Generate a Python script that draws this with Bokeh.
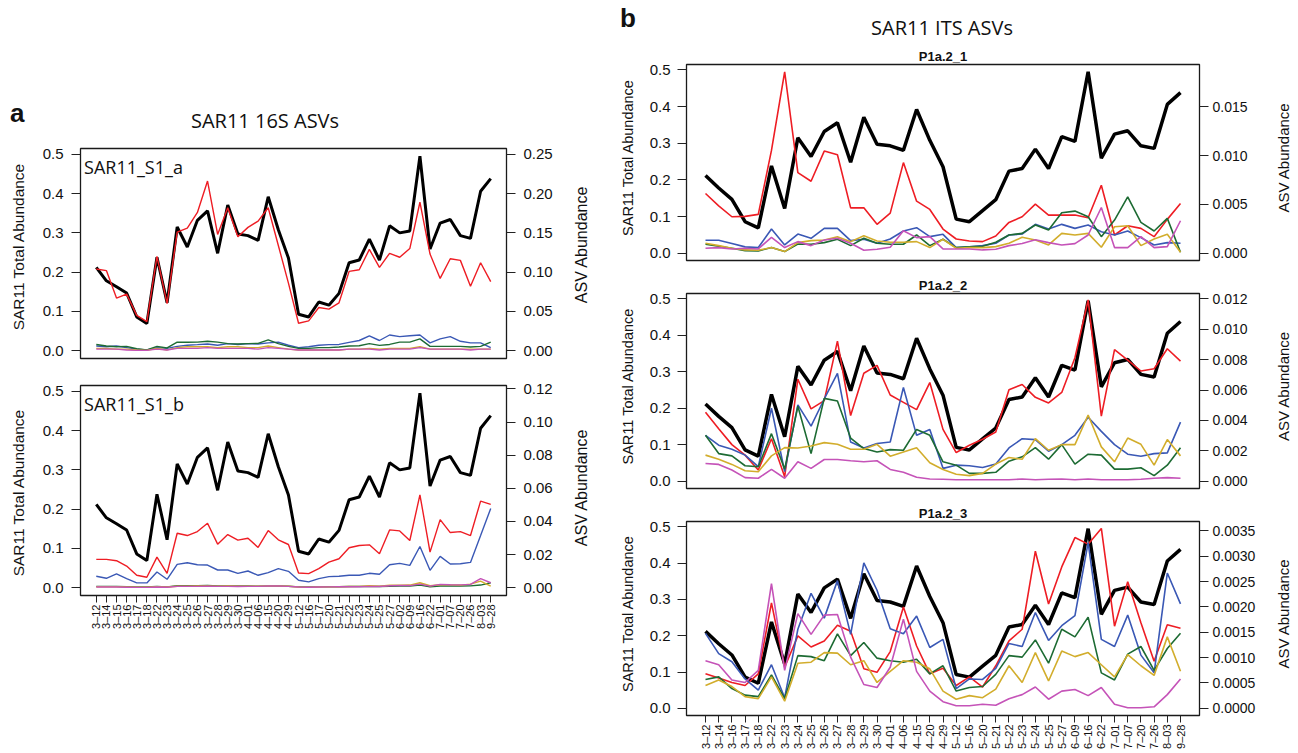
import math
from bokeh.plotting import figure
from bokeh.models import Range1d, LinearAxis, FixedTicker, PrintfTickFormatter, Div
from bokeh.layouts import row, column
from bokeh.core.properties import value
from bokeh.embed import file_html
from bokeh.resources import INLINE

# ---------------- data ----------------
dates_a = ["3–12", "3–14", "3–15", "3–16", "3–17", "3–18", "3–22", "3–23", "3–24", "3–25",
           "3–26", "3–27", "3–28", "3–29", "3–30", "4–01", "4–06", "4–15", "4–20", "4–29",
           "5–12", "5–16", "5–17", "5–20", "5–21", "5–22", "5–23", "5–24", "5–25", "5–27",
           "6–02", "6–09", "6–16", "6–22", "7–01", "7–07", "7–20", "7–26", "8–03", "9–28"]
dates_b = ["3–12", "3–14", "3–16", "3–17", "3–18", "3–22", "3–23", "3–24", "3–25", "3–26",
           "3–27", "3–28", "3–29", "3–30", "4–01", "4–06", "4–15", "4–20", "4–29", "5–12",
           "5–16", "5–20", "5–21", "5–22", "5–23", "5–24", "5–25", "5–27", "6–09", "6–16",
           "6–22", "7–01", "7–07", "7–20", "7–26", "8–03", "9–28"]

total_a = [0.212, 0.178, 0.163, 0.147, 0.086, 0.069, 0.238, 0.122, 0.315, 0.264,
           0.332, 0.356, 0.248, 0.371, 0.297, 0.293, 0.281, 0.392, 0.308, 0.236,
           0.093, 0.086, 0.124, 0.116, 0.146, 0.224, 0.231, 0.284, 0.231, 0.318,
           0.300, 0.305, 0.495, 0.259, 0.325, 0.334, 0.293, 0.286, 0.406, 0.438]
total_b = [0.212, 0.178, 0.147, 0.086, 0.069, 0.238, 0.122, 0.315, 0.264, 0.332,
           0.356, 0.248, 0.371, 0.297, 0.293, 0.281, 0.392, 0.308, 0.236, 0.093,
           0.086, 0.116, 0.146, 0.224, 0.231, 0.284, 0.231, 0.318, 0.305, 0.495,
           0.259, 0.325, 0.334, 0.293, 0.286, 0.406, 0.438]

# SAR11_S1_a
a1_red = [0.104, 0.102, 0.067, 0.072, 0.045, 0.037, 0.120, 0.060, 0.151, 0.156,
          0.176, 0.216, 0.148, 0.182, 0.145, 0.157, 0.165, 0.182, 0.134, 0.086,
          0.035, 0.038, 0.055, 0.053, 0.061, 0.101, 0.103, 0.129, 0.106, 0.124,
          0.119, 0.130, 0.189, 0.123, 0.092, 0.117, 0.115, 0.082, 0.112, 0.088]
a1_blue = [0.006, 0.005, 0.006, 0.004, 0.002, 0.001, 0.004, 0.003, 0.0055, 0.007,
           0.0077, 0.0085, 0.007, 0.009, 0.008, 0.009, 0.0085, 0.010, 0.011, 0.007,
           0.004, 0.005, 0.007, 0.0077, 0.008, 0.0107, 0.013, 0.019, 0.013, 0.020,
           0.018, 0.019, 0.020, 0.010, 0.015, 0.018, 0.012, 0.010, 0.010, 0.004]
a1_green = [0.008, 0.006, 0.005, 0.0055, 0.0025, 0.001, 0.0055, 0.0035, 0.011, 0.0107,
            0.011, 0.012, 0.011, 0.009, 0.0085, 0.009, 0.0094, 0.0137, 0.009, 0.0055,
            0.003, 0.003, 0.004, 0.004, 0.0047, 0.006, 0.0064, 0.009, 0.0068, 0.008,
            0.011, 0.011, 0.015, 0.0055, 0.0055, 0.0055, 0.0055, 0.0047, 0.0055, 0.011]
a1_yellow = [0.003, 0.003, 0.002, 0.002, 0.001, 0.0005, 0.003, 0.001, 0.004, 0.005,
             0.005, 0.005, 0.004, 0.005, 0.005, 0.004, 0.004, 0.006, 0.004, 0.002,
             0.001, 0.001, 0.001, 0.001, 0.001, 0.002, 0.002, 0.003, 0.002, 0.003,
             0.003, 0.003, 0.005, 0.002, 0.002, 0.002, 0.002, 0.002, 0.002, 0.002]
a1_magenta = [0.002, 0.002, 0.002, 0.001, 0.0005, 0.0005, 0.002, 0.001, 0.003, 0.003,
              0.003, 0.004, 0.003, 0.003, 0.003, 0.003, 0.002, 0.004, 0.003, 0.002,
              0.001, 0.001, 0.001, 0.001, 0.001, 0.002, 0.002, 0.002, 0.001, 0.002,
              0.002, 0.002, 0.004, 0.002, 0.002, 0.002, 0.002, 0.001, 0.002, 0.002]

# SAR11_S1_b
a2_red = [0.0171, 0.0171, 0.0163, 0.0131, 0.0075, 0.0063, 0.0185, 0.0087, 0.0329, 0.0315,
          0.0339, 0.0389, 0.0263, 0.0321, 0.0287, 0.0299, 0.0243, 0.0345, 0.0289, 0.0261,
          0.0089, 0.0085, 0.0115, 0.0155, 0.0175, 0.0241, 0.0255, 0.0259, 0.0205, 0.0349,
          0.0343, 0.0285, 0.0561, 0.0215, 0.0411, 0.0333, 0.0339, 0.0315, 0.0523, 0.0503]
a2_blue = [0.0069, 0.0057, 0.0083, 0.0055, 0.0029, 0.0029, 0.0095, 0.0051, 0.0141, 0.0151,
           0.0139, 0.0137, 0.0107, 0.0107, 0.0087, 0.0101, 0.0075, 0.0091, 0.0115, 0.0099,
           0.0045, 0.0035, 0.0055, 0.0067, 0.0069, 0.0075, 0.0075, 0.0087, 0.0081, 0.0139,
           0.0147, 0.0135, 0.0249, 0.0105, 0.0189, 0.0143, 0.0145, 0.0153, 0.0315, 0.0479]
a2_green = [0.0008, 0.0008, 0.0008, 0.0006, 0.0004, 0.0004, 0.0008, 0.0005, 0.0012, 0.0012,
            0.0012, 0.0013, 0.0011, 0.0011, 0.0010, 0.0010, 0.0009, 0.0010, 0.0010, 0.0009,
            0.0005, 0.0004, 0.0005, 0.0006, 0.0006, 0.0007, 0.0007, 0.0008, 0.0007, 0.0009,
            0.0010, 0.0010, 0.0016, 0.0006, 0.0010, 0.0010, 0.0010, 0.0011, 0.0016, 0.0030]
a2_yellow = [0.0006, 0.0006, 0.0006, 0.0005, 0.0003, 0.0003, 0.0006, 0.0004, 0.0009, 0.0009,
             0.0010, 0.0010, 0.0009, 0.0010, 0.0009, 0.0009, 0.0009, 0.0011, 0.0010, 0.0009,
             0.0004, 0.0003, 0.0004, 0.0005, 0.0006, 0.0007, 0.0008, 0.0012, 0.0009, 0.0015,
             0.0015, 0.0016, 0.0030, 0.0012, 0.0018, 0.0017, 0.0016, 0.0022, 0.0040, 0.0010]
a2_magenta = [0.0004, 0.0004, 0.0004, 0.0003, 0.0002, 0.0002, 0.0004, 0.0003, 0.0008, 0.0008,
              0.0008, 0.0009, 0.0008, 0.0008, 0.0007, 0.0008, 0.0008, 0.0010, 0.0010, 0.0008,
              0.0004, 0.0003, 0.0004, 0.0005, 0.0006, 0.0006, 0.0006, 0.0008, 0.0007, 0.0012,
              0.0013, 0.0013, 0.0022, 0.0010, 0.0020, 0.0018, 0.0017, 0.0020, 0.0055, 0.0030]

# P1a.2_1
b1_red = [0.00612, 0.00486, 0.00374, 0.00378, 0.00398, 0.01054, 0.0186, 0.00826, 0.00738, 0.01047,
          0.0101, 0.00465, 0.00465, 0.00296, 0.00411, 0.00929, 0.00534, 0.00449, 0.00248, 0.00146,
          0.00126, 0.00119, 0.00177, 0.00316, 0.00374, 0.00503, 0.00391, 0.00391, 0.00391, 0.00363,
          0.00697, 0.00187, 0.00282, 0.00255, 0.0017, 0.00347, 0.0051]
b1_blue = [0.00133, 0.00133, 0.00099, 0.00065, 0.00058, 0.00248, 0.00085, 0.00197, 0.00153, 0.00255,
           0.00255, 0.00129, 0.00143, 0.00102, 0.00146, 0.00228, 0.00262, 0.0017, 0.00194, 0.00058,
           0.00065, 0.00078, 0.00102, 0.00187, 0.00197, 0.00296, 0.00248, 0.00296, 0.00255, 0.00289,
           0.00221, 0.00187, 0.00228, 0.0016, 0.00085, 0.00109, 0.00102]
b1_green = [0.00092, 0.00071, 0.00051, 0.00027, 0.00024, 0.00058, 0.00017, 0.00095, 0.00092, 0.00109,
            0.00143, 0.00078, 0.00153, 0.00102, 0.00092, 0.00092, 0.00187, 0.00078, 0.00143, 0.00058,
            0.00065, 0.00071, 0.00112, 0.00187, 0.00204, 0.00289, 0.00238, 0.00415, 0.00432, 0.00374,
            0.0017, 0.0034, 0.00578, 0.00316, 0.00228, 0.00357, 0.0001]
b1_yellow = [0.00102, 0.00078, 0.00051, 0.00034, 0.00031, 0.00058, 0.00017, 0.00109, 0.00129, 0.00136,
             0.0017, 0.00119, 0.0018, 0.00126, 0.00112, 0.00112, 0.00119, 0.00058, 0.00143, 0.00051,
             0.00058, 0.00058, 0.00068, 0.00102, 0.00163, 0.00136, 0.00085, 0.00204, 0.00187, 0.00204,
             0.00061, 0.00272, 0.00282, 0.00078, 0.00146, 0.00194, 0.0001]
b1_magenta = [0.00051, 0.00058, 0.00044, 0.00051, 0.00044, 0.00163, 0.00058, 0.00119, 0.00078, 0.00136,
              0.00153, 0.00102, 0.00031, 0.00041, 0.00061, 0.00231, 0.0016, 0.0017, 0.00044, 0.00044,
              0.00044, 0.00034, 0.00041, 0.00078, 0.00099, 0.00139, 0.00109, 0.00085, 0.00099, 0.00187,
              0.00469, 0.00058, 0.00058, 0.0017, 0.00058, 0.00068, 0.00333]

# P1a.2_2
b2_red = [0.00454, 0.00345, 0.00241, 0.00172, 0.00074, 0.0028, 0.0003, 0.00671, 0.00476, 0.0053,
          0.00921, 0.00432, 0.0071, 0.00762, 0.00567, 0.00519, 0.00471, 0.00649, 0.00341, 0.00189,
          0.00237, 0.00276, 0.00324, 0.00602, 0.00636, 0.00552, 0.00515, 0.00584, 0.00812, 0.01192,
          0.00428, 0.00866, 0.00797, 0.00725, 0.0074, 0.00871, 0.0079]
b2_blue = [0.00302, 0.00237, 0.00211, 0.00172, 0.00096, 0.0048, 0.00063, 0.00502, 0.00363, 0.00541,
           0.0071, 0.00258, 0.00219, 0.00248, 0.00258, 0.00617, 0.00302, 0.00341, 0.00085, 0.00106,
           0.00102, 0.00091, 0.00113, 0.00219, 0.0028, 0.00274, 0.00198, 0.00241, 0.00302, 0.00421,
           0.00328, 0.00241, 0.00178, 0.00165, 0.00182, 0.00187, 0.00389]
b2_green = [0.00302, 0.00182, 0.00167, 0.00102, 0.00096, 0.00313, 0.0008, 0.00493, 0.00182, 0.00545,
            0.00528, 0.00284, 0.00215, 0.00193, 0.00208, 0.00204, 0.00341, 0.00302, 0.00128, 0.00106,
            0.00052, 0.00052, 0.00059, 0.00132, 0.00161, 0.00221, 0.00145, 0.00241, 0.00113, 0.00178,
            0.00172, 0.0008, 0.0008, 0.00089, 0.00037, 0.00106, 0.00221]
b2_yellow = [0.00172, 0.00145, 0.00111, 0.00069, 0.00063, 0.00167, 0.00221, 0.00219, 0.00232, 0.00254,
             0.00243, 0.00211, 0.00211, 0.00243, 0.00165, 0.00193, 0.00221, 0.00122, 0.00078, 0.00046,
             0.00037, 0.00052, 0.00113, 0.00156, 0.00145, 0.0028, 0.00204, 0.00241, 0.00241, 0.00436,
             0.00226, 0.00128, 0.00284, 0.00243, 0.00106, 0.00274, 0.00167]
b2_magenta = [0.00117, 0.00111, 0.00074, 0.00024, 0.0002, 0.00078, 0.0002, 0.00128, 0.00085, 0.00143,
              0.00143, 0.00135, 0.00128, 0.00135, 0.00078, 0.00059, 0.00026, 0.00015, 0.00013, 0.0001,
              0.0001, 0.0001, 0.0001, 0.0001, 0.00015, 0.0001, 0.00013, 0.00015, 0.0001, 0.00015,
              0.0001, 0.0001, 0.0001, 0.00013, 0.0002, 0.00024, 0.0002]

# P1a.2_3
b3_red = [0.00068, 0.0006, 0.00051, 0.00045, 0.00068, 0.00208, 0.00081, 0.00143, 0.00121, 0.00133,
          0.00164, 0.00152, 0.00078, 0.00071, 0.00112, 0.002, 0.00123, 0.00068, 0.00079, 0.00045,
          0.00062, 0.00042, 0.00084, 0.00133, 0.00156, 0.0031, 0.00206, 0.00279, 0.00337, 0.00324,
          0.00355, 0.00162, 0.0025, 0.00169, 0.00093, 0.00165, 0.00158]
b3_blue = [0.00148, 0.00108, 0.00092, 0.00058, 0.00036, 0.00086, 0.00021, 0.00156, 0.00227, 0.00178,
           0.00252, 0.00146, 0.00287, 0.00233, 0.00157, 0.00147, 0.00182, 0.0012, 0.00136, 0.00039,
           0.00058, 0.00057, 0.00079, 0.00128, 0.00122, 0.00189, 0.00134, 0.00163, 0.00183, 0.00327,
           0.00136, 0.00122, 0.00184, 0.00105, 0.0007, 0.00267, 0.00206]
b3_green = [0.00057, 0.00062, 0.00039, 0.00026, 0.00023, 0.00066, 0.00019, 0.00104, 0.00102, 0.00094,
            0.00147, 0.00104, 0.0013, 0.00099, 0.00094, 0.00091, 0.00097, 0.00068, 0.00084, 0.00034,
            0.00041, 0.00043, 0.00067, 0.00104, 0.00101, 0.00135, 0.00089, 0.00156, 0.00141, 0.0018,
            0.0007, 0.00056, 0.00107, 0.00122, 0.00075, 0.00118, 0.00148]
b3_yellow = [0.00045, 0.00056, 0.00043, 0.00023, 0.00019, 0.00062, 0.00014, 0.00089, 0.00091, 0.0011,
             0.00109, 0.00086, 0.00094, 0.00051, 0.00073, 0.00094, 0.00091, 0.00078, 0.00034, 0.00018,
             0.00025, 0.00021, 0.00038, 0.00084, 0.00051, 0.0011, 0.00054, 0.00113, 0.00102, 0.0011,
             0.00086, 0.00062, 0.00106, 0.00084, 0.00065, 0.00141, 0.00073]
b3_magenta = [0.00094, 0.00086, 0.00056, 0.00051, 0.00075, 0.00246, 0.00075, 0.00187, 0.00146, 0.00184,
              0.00185, 0.00101, 0.00047, 0.00041, 0.00081, 0.00176, 0.00073, 0.00034, 0.00013, 0.00005,
              0.00005, 0.00008, 0.00006, 0.00019, 0.00027, 0.00042, 0.00018, 0.00034, 0.00037, 0.00025,
              0.00041, 0.00008, 0.00001, 0.00001, 0.00003, 0.00027, 0.00058]

left_ticks = [0.0, 0.1, 0.2, 0.3, 0.4, 0.5]
a1_rticks = [0.0, 0.05, 0.10, 0.15, 0.20, 0.25]
a2_rticks = [0.0, 0.02, 0.04, 0.06, 0.08, 0.10, 0.12]
b1_rticks = [0.0, 0.005, 0.010, 0.015]
b2_rticks = [0.0, 0.002, 0.004, 0.006, 0.008, 0.010, 0.012]
b3_rticks = [0.0, 0.0005, 0.0010, 0.0015, 0.0020, 0.0025, 0.0030, 0.0035]

COLORS = ["#ee1d24", "#3a58b5", "#1d6b33", "#d2ad2c", "#c553b8"]
L_MAX = 0.495
TXT = "Liberation Sans"
INK = "#111111"
LEFT_TITLE = "SAR11 Total Abundance"
RIGHT_TITLE = "ASV Abundance"


def make_header(w, h, items):
    spans = []
    for (x, y, t, size, font, weight, anchor) in items:
        tx = "-50%" if anchor == "center" else "0"
        spans.append(
            f'<span style="position:absolute;left:{x}px;top:{y}px;'
            f'transform:translate({tx},-50%);font-family:\'{font}\';font-size:{size};'
            f'font-weight:{weight};color:{INK};white-space:nowrap;line-height:1;">{t}</span>')
    html = (f'<div style="position:relative;width:{w}px;height:{h}px;margin:0;padding:0;">'
            + "".join(spans) + "</div>")
    return Div(text=html, width=w, height=h, margin=(0, 0, 0, 0))


def make_strip(w, h, bt, bb, frame_top, frame_bottom, xc, yc, text, size):
    """Narrow side strip carrying a rotated axis title (reads bottom to top)."""
    p = figure(width=w, height=h, min_border_left=0, min_border_right=0,
               min_border_top=bt, min_border_bottom=bb,
               x_range=Range1d(0, w), y_range=Range1d(frame_bottom, frame_top),
               x_axis_location=None, y_axis_location=None,
               output_backend="svg", toolbar_location=None, tools="")
    p.title.visible = False
    p.grid.visible = False
    p.outline_line_color = None
    p.background_fill_color = "white"
    p.border_fill_color = "white"
    p.text(x=[xc], y=[yc], text=[text], angle=math.pi / 2,
           text_font=value(TXT), text_font_size=value(size),
           text_align="center", text_baseline="middle", text_color=INK)
    return p


def make_panel(w, h, bl, br, bt, bb, total, series, rmax, rticks, rfmt,
               xlabels=None, black_w=3.0, col_w=1.4, rtick_size="15px",
               subtitle=None, right_tick_standoff=8, left_tick_standoff=8):
    n = len(total)
    xs = list(range(n))
    pad = 0.04 * (n - 1)
    p = figure(width=w, height=h, min_border_left=bl, min_border_right=br,
               min_border_top=bt, min_border_bottom=bb,
               x_range=Range1d(-pad, n - 1 + pad),
               y_range=Range1d(-0.04 * L_MAX, 1.04 * L_MAX),
               output_backend="svg", toolbar_location=None, tools="")
    if subtitle is None:
        p.title.visible = False
    else:
        p.title.text = subtitle
        p.title.align = "center"
        p.title.text_font = TXT
        p.title.text_font_size = "13px"
        p.title.text_font_style = "bold"
        p.title.text_color = INK
        if hasattr(p.title, "standoff"):
            p.title.standoff = 2
    p.extra_y_ranges = {"r": Range1d(-0.04 * rmax, 1.04 * rmax)}
    p.grid.visible = False
    p.background_fill_color = "white"
    p.border_fill_color = "white"
    p.outline_line_color = "#1a1a1a"
    p.outline_line_width = 1.3

    ya = p.yaxis[0]
    ya.ticker = FixedTicker(ticks=left_ticks)
    ya.formatter = PrintfTickFormatter(format="%.1f")
    ya.major_label_text_font_size = "15px"
    ya.major_label_standoff = left_tick_standoff

    ra = LinearAxis(y_range_name="r", ticker=FixedTicker(ticks=rticks),
                    formatter=PrintfTickFormatter(format=rfmt))
    ra.major_label_text_font_size = rtick_size
    ra.major_label_standoff = right_tick_standoff
    p.add_layout(ra, "right")

    for ax in (ya, ra):
        ax.axis_line_color = None
        ax.major_tick_line_color = "#222222"
        ax.major_tick_line_width = 1
        ax.major_tick_out = 9
        ax.major_tick_in = 0
        ax.minor_tick_line_color = None
        ax.major_label_text_font = TXT
        ax.major_label_text_color = INK

    xa = p.xaxis[0]
    if xlabels is None:
        xa.visible = False
    else:
        xa.ticker = FixedTicker(ticks=xs)
        xa.major_label_overrides = {i: s for i, s in enumerate(xlabels)}
        xa.major_label_orientation = math.pi / 2
        xa.major_label_text_font = TXT
        xa.major_label_text_font_size = "11px"
        xa.major_label_text_color = INK
        xa.major_label_standoff = 2
        xa.major_tick_out = 7
        xa.major_tick_in = 0
        xa.major_tick_line_color = "#222222"
        xa.minor_tick_line_color = None
        xa.axis_line_color = None

    p.line(xs, total, line_color="black", line_width=black_w)
    for vals, c in zip(series, COLORS):
        p.line(xs, vals, line_color=c, line_width=col_w, y_range_name="r")
    return p


# ---------------- panel a (column x 0..600) ----------------
head_a = make_header(600, 138, [
    (10, 113, "a", "26px", TXT, "bold", "left"),
    (265, 121, "SAR11 16S ASVs", "20px", "Open Sans", "normal", "center"),
])
a1 = make_panel(532, 233, 46, 60, 10, 13, total_a,
                [a1_red, a1_blue, a1_green, a1_yellow, a1_magenta],
                0.2475, a1_rticks, "%.2f")
a2 = make_panel(532, 380, 46, 60, 14, 156, total_a,
                [a2_red, a2_blue, a2_green, a2_yellow, a2_magenta],
                0.1174, a2_rticks, "%.2f", xlabels=dates_a)
for p, name in ((a1, "SAR11_S1_a"), (a2, "SAR11_S1_b")):
    p.text(x=[-0.04 * 39 + 0.35], y=[0.468], text=[name], text_font=value("Open Sans"),
           text_font_size=value("18px"), text_align="left", text_baseline="middle",
           text_color=INK)
la1 = make_strip(34, 233, 10, 13, 148, 358, 17.5, 246, LEFT_TITLE, "15.5px")
la2 = make_strip(34, 380, 14, 156, 385, 595, 17.5, 492, LEFT_TITLE, "15.5px")
sa1 = make_strip(34, 233, 10, 13, 148, 358, 14.5, 244, RIGHT_TITLE, "16px")
sa2 = make_strip(34, 380, 14, 156, 385, 595, 14.5, 487, RIGHT_TITLE, "16px")

# ---------------- panel b (column x 600..1296) ----------------
head_b = make_header(696, 44, [
    (20, 18, "b", "26px", TXT, "bold", "left"),
    (342, 28, "SAR11 ITS ASVs", "20px", "Open Sans", "normal", "center"),
])
b_kw = dict(black_w=3.5, col_w=1.6, rtick_size="14px",
            right_tick_standoff=4, left_tick_standoff=7)
b1 = make_panel(630, 230, 44, 73, 20, 14, total_b,
                [b1_red, b1_blue, b1_green, b1_yellow, b1_magenta],
                0.0186, b1_rticks, "%.3f", subtitle="P1a.2_1", **b_kw)
b2 = make_panel(630, 228, 44, 73, 18, 14, total_b,
                [b2_red, b2_blue, b2_green, b2_yellow, b2_magenta],
                0.01187, b2_rticks, "%.3f", subtitle="P1a.2_2", **b_kw)
b3 = make_panel(630, 249, 44, 73, 18, 35, total_b,
                [b3_red, b3_blue, b3_green, b3_yellow, b3_magenta],
                0.003545, b3_rticks, "%.4f", xlabels=dates_b,
                subtitle="P1a.2_3", **b_kw)
lb1 = make_strip(42, 230, 20, 14, 64, 260, 27.5, 157, LEFT_TITLE, "14.5px")
lb2 = make_strip(42, 228, 18, 14, 292, 488, 27.5, 385, LEFT_TITLE, "14.5px")
lb3 = make_strip(42, 249, 18, 35, 520, 716, 27.5, 613, LEFT_TITLE, "14.5px")
sb1 = make_strip(24, 230, 20, 14, 64, 260, 11, 157, RIGHT_TITLE, "15px")
sb2 = make_strip(24, 228, 18, 14, 292, 488, 11, 385, RIGHT_TITLE, "15px")
sb3 = make_strip(24, 249, 18, 35, 520, 716, 11, 613, RIGHT_TITLE, "15px")

col_a = column(head_a, row(la1, a1, sa1, spacing=0), row(la2, a2, sa2, spacing=0), spacing=0)
col_b = column(head_b, row(lb1, b1, sb1, spacing=0), row(lb2, b2, sb2, spacing=0),
               row(lb3, b3, sb3, spacing=0), spacing=0)
layout = row(col_a, col_b, spacing=0)

open("out.html", "w").write(file_html(layout, INLINE))
